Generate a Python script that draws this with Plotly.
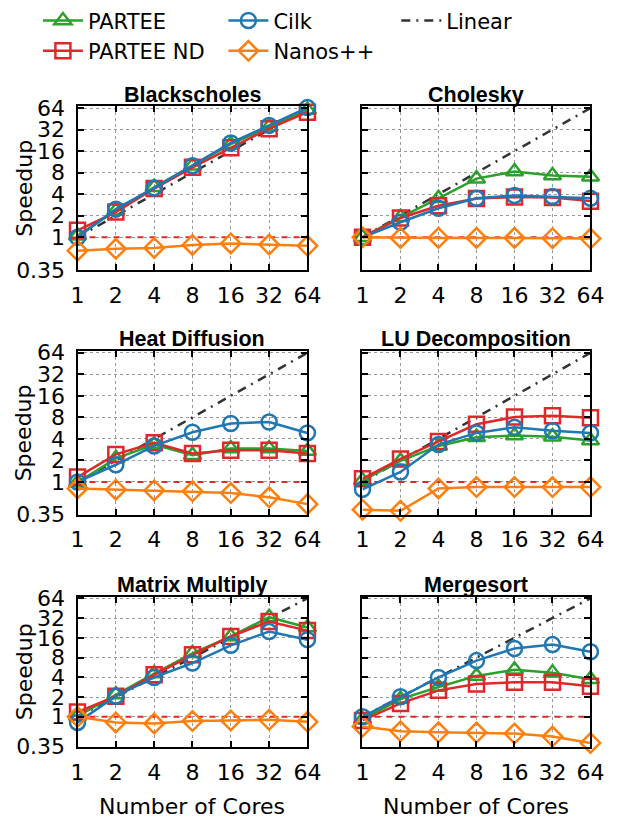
import plotly.graph_objects as go
import math

cores = [1, 2, 4, 8, 16, 32, 64]
linear = [1, 2, 4, 8, 16, 32, 64]
baseline = [1, 1, 1, 1, 1, 1, 1]

titles = ["Blackscholes", "Cholesky", "Heat Diffusion", "LU Decomposition",
          "Matrix Multiply", "Mergesort"]

blackscholes_partee = [1.05, 2.35, 5.0, 10.0, 20.0, 35.0, 60.0]
blackscholes_partee_nd = [1.25, 2.25, 4.8, 9.5, 17.8, 33.0, 56.0]
blackscholes_cilk = [1.0, 2.47, 4.9, 10.0, 20.8, 36.6, 65.0]
blackscholes_nanos = [0.65, 0.69, 0.71, 0.78, 0.82, 0.79, 0.76]

cholesky_partee = [1.0, 1.9, 3.5, 6.6, 8.3, 7.3, 7.0]
cholesky_partee_nd = [1.0, 1.86, 2.75, 3.47, 3.65, 3.6, 3.2]
cholesky_cilk = [1.0, 1.62, 2.54, 3.5, 3.84, 3.7, 3.5]
cholesky_nanos = [1.0, 0.98, 0.98, 0.98, 0.98, 0.97, 0.96]

heat_partee = [0.98, 2.14, 3.33, 2.37, 2.93, 2.93, 2.7]
heat_partee_nd = [1.17, 2.43, 3.54, 2.5, 2.78, 2.78, 2.5]
heat_cilk = [1.0, 1.74, 3.19, 4.95, 6.57, 6.9, 4.85]
heat_nanos = [0.81, 0.78, 0.76, 0.74, 0.7, 0.61, 0.49]

lu_partee = [1.05, 1.97, 3.19, 4.23, 4.45, 4.3, 3.8]
lu_partee_nd = [1.11, 2.1, 3.69, 6.4, 8.1, 8.4, 7.9]
lu_cilk = [0.79, 1.38, 3.33, 4.85, 5.8, 5.2, 4.85]
lu_nanos = [0.41, 0.395, 0.81, 0.85, 0.85, 0.85, 0.85]

matmul_partee = [1.02, 2.18, 4.56, 9.3, 16.8, 33.0, 23.0]
matmul_partee_nd = [1.18, 2.06, 4.36, 8.8, 16.8, 28.3, 20.6]
matmul_cilk = [0.82, 2.06, 3.98, 6.6, 12.3, 19.9, 15.0]
matmul_nanos = [1.0, 0.82, 0.79, 0.86, 0.88, 0.9, 0.84]

mergesort_partee = [0.91, 1.86, 2.84, 4.2, 5.2, 4.7, 3.75]
mergesort_partee_nd = [0.88, 1.6, 2.53, 3.17, 3.36, 3.36, 2.93]
mergesort_cilk = [1.0, 2.02, 3.98, 7.2, 11.0, 12.6, 9.8]
mergesort_nanos = [0.71, 0.6, 0.58, 0.575, 0.555, 0.5, 0.4]

ytick_vals = [0.35, 1, 2, 4, 8, 16, 32, 64]
ytick_text = ["0.35", "1", "2", "4", "8", "16", "32", "64"]
xtick_text = ["1", "2", "4", "8", "16", "32", "64"]

panels = [
    (blackscholes_partee, blackscholes_partee_nd, blackscholes_cilk, blackscholes_nanos),
    (cholesky_partee, cholesky_partee_nd, cholesky_cilk, cholesky_nanos),
    (heat_partee, heat_partee_nd, heat_cilk, heat_nanos),
    (lu_partee, lu_partee_nd, lu_cilk, lu_nanos),
    (matmul_partee, matmul_partee_nd, matmul_cilk, matmul_nanos),
    (mergesort_partee, mergesort_partee_nd, mergesort_cilk, mergesort_nanos),
]

W, H = 618, 830
GREEN = "#2ca02c"
RED = "#e0282a"
BLUE = "#1f77b4"
ORANGE = "#ff7f0e"
GRAY = "#333333"

FONT = "DejaVu Sans"
TITLE_FONT = "Liberation Sans"
FS = 22

# pixel boxes for each subplot: (left, right) and (top, bottom)
col_x = [(73, 311), (368, 604)]
row_y = [(97, 266), (349, 518), (602, 757)]

fig = go.Figure()
layout = {}

def px2x(p):
    return p / W

def px2y(p):
    return 1 - p / H

for i, (p, nd, ck, nn) in enumerate(panels):
    r, c = divmod(i, 2)
    n = i + 1
    xa = "x" if n == 1 else f"x{n}"
    ya = "y" if n == 1 else f"y{n}"
    first = i == 0

    def add(y, name, color, symbol, legend, showleg, dash="solid", marker=True, rank=1):
        fig.add_trace(go.Scatter(
            x=cores, y=y, name=name, xaxis=xa, yaxis=ya,
            mode="lines+markers" if marker else "lines",
            line=dict(color=color, width=2.5, dash=dash),
            marker=dict(symbol=symbol, size=15, color=color,
                        line=dict(color=color, width=2.5)) if marker else None,
            cliponaxis=False, showlegend=showleg, legend=legend, legendrank=rank,
        ))

    fig.add_trace(go.Scatter(
        x=cores, y=baseline, xaxis=xa, yaxis=ya, mode="lines",
        line=dict(color=RED, width=2, dash="6px,6px"), showlegend=False,
        hoverinfo="skip"))
    add(linear, "Linear", GRAY, None, "legend3", first, dash="9px,6px,2px,6px", marker=False)
    add(p, "PARTEE", GREEN, "triangle-up-open", "legend", first, rank=1)
    add(nd, "PARTEE ND", RED, "square-open", "legend", first, rank=2)
    add(ck, "Cilk", BLUE, "circle-open", "legend2", first, rank=1)
    add(nn, "Nanos++", ORANGE, "diamond-open", "legend2", first, rank=2)

    x0, x1 = col_x[c]
    y0, y1 = row_y[r]
    axkey_x = "xaxis" if n == 1 else f"xaxis{n}"
    axkey_y = "yaxis" if n == 1 else f"yaxis{n}"
    layout[axkey_x] = dict(
        domain=[px2x(x0), px2x(x1)], anchor=ya, type="log",
        range=[0, math.log10(64)], tickvals=cores, ticktext=xtick_text,
        ticks="inside", ticklen=6, tickwidth=1.5, tickcolor="black",
        showline=True, linecolor="black", linewidth=2, mirror="ticks",
        showgrid=True, gridcolor="#9a9a9a", griddash="dot", gridwidth=1,
        tickfont=dict(family=FONT, size=FS, color="black"),
        zeroline=False, ticklabelstandoff=4,
    )
    layout[axkey_y] = dict(
        domain=[px2y(y1), px2y(y0)], anchor=xa, type="log",
        range=[math.log10(0.345), math.log10(68)], tickvals=ytick_vals,
        ticktext=ytick_text if c == 0 else [""] * len(ytick_vals),
        ticks="inside", ticklen=6, tickwidth=1.5, tickcolor="black",
        showline=True, linecolor="black", linewidth=2, mirror="ticks",
        showgrid=True, gridcolor="#9a9a9a", griddash="dot", gridwidth=1,
        tickfont=dict(family=FONT, size=FS, color="black"),
        zeroline=False, ticklabelstandoff=6,
    )

annotations = []
for i, t in enumerate(titles):
    r, c = divmod(i, 2)
    x0, x1 = col_x[c]
    y0, y1 = row_y[r]
    annotations.append(dict(
        text=f"<b>{t}</b>", x=px2x((x0 + x1) / 2), y=px2y(y0 - 12),
        xref="paper", yref="paper", showarrow=False, xanchor="center", yanchor="middle",
        font=dict(family=TITLE_FONT, size=21.5, color="black")))
    if c == 0:
        annotations.append(dict(
            text="Speedup", x=px2x(18), y=px2y((y0 + y1) / 2), textangle=-90,
            xref="paper", yref="paper", showarrow=False, xanchor="center", yanchor="middle",
            font=dict(family=FONT, size=FS, color="black")))
for c in range(2):
    x0, x1 = col_x[c]
    annotations.append(dict(
        text="Number of Cores", x=px2x((x0 + x1) / 2), y=px2y(818),
        xref="paper", yref="paper", showarrow=False, xanchor="center", yanchor="middle",
        font=dict(family=FONT, size=FS, color="black")))

leg_common = dict(orientation="v", xanchor="left", yanchor="top", bgcolor="rgba(0,0,0,0)",
                  font=dict(family=FONT, size=21, color="black"), itemwidth=40,
                  tracegroupgap=0, traceorder="normal")

fig.update_layout(
    width=W, height=H, margin=dict(l=0, r=0, t=0, b=0),
    paper_bgcolor="white", plot_bgcolor="white",
    annotations=annotations,
    legend=dict(x=px2x(32), y=px2y(-12), **leg_common),
    legend2=dict(x=px2x(224), y=px2y(-12), **leg_common),
    legend3=dict(x=px2x(403), y=px2y(-12), **leg_common),
    **layout,
)

fig.write_html("out.html", post_script="document.body.style.margin='0';",
               config={"displayModeBar": False})
